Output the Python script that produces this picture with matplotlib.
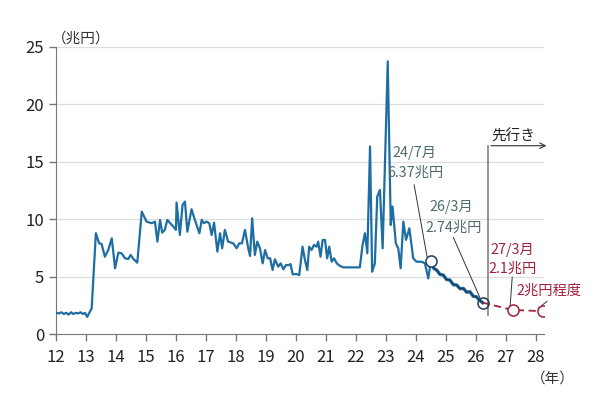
import matplotlib
matplotlib.use("Agg")
import matplotlib.pyplot as plt

plt.rcParams['font.family'] = ['Noto Sans CJK JP', 'DejaVu Sans']

# Observed series (year as decimal, value in trillion yen)
years = [12.02, 12.1, 12.18, 12.26, 12.34, 12.42, 12.5, 12.58, 12.66, 12.74, 12.82, 12.9, 12.97, 13.04, 13.19,
         13.33, 13.44, 13.52, 13.63, 13.74, 13.86, 13.97, 14.08, 14.19, 14.3, 14.41, 14.49, 14.58, 14.71,
         14.86, 15.02, 15.19, 15.3, 15.38, 15.47, 15.54, 15.63, 15.71, 15.91, 16.0, 16.02, 16.13, 16.22,
         16.3, 16.38, 16.52, 16.63, 16.78, 16.86, 16.93, 17.02, 17.11, 17.19, 17.27, 17.38, 17.47, 17.54,
         17.63, 17.74, 17.91, 18.02, 18.11, 18.2, 18.3, 18.41, 18.47, 18.54, 18.63, 18.71, 18.8, 18.89,
         18.97, 19.06, 19.14, 19.22, 19.3, 19.41, 19.49, 19.58, 19.67, 19.75, 19.82, 19.89, 20.02, 20.11,
         20.22, 20.3, 20.38, 20.44, 20.52, 20.6, 20.69, 20.74, 20.82, 20.89, 20.97, 21.04, 21.11, 21.19,
         21.27, 21.36, 21.47, 21.58, 22.13, 22.22, 22.3, 22.38, 22.47, 22.54, 22.63, 22.71, 22.8, 22.89,
         23.06, 23.16, 23.22, 23.33, 23.41, 23.49, 23.58, 23.67, 23.78, 23.91, 24.02, 24.19, 24.3, 24.41,
         24.5]
values = [1.85, 1.8, 1.9, 1.75, 1.85, 1.7, 1.9, 1.75, 1.85, 1.8, 1.9, 1.75, 1.85, 1.5, 2.24,
          8.78, 7.9, 7.85, 6.74, 7.3, 8.34, 5.73, 7.09, 7.03, 6.6, 6.54, 6.89, 6.54, 6.22,
          10.66, 9.79, 9.65, 9.79, 8.05, 9.94, 8.83, 9.07, 9.94, 9.36, 9.07, 11.45, 8.63, 11.25,
          11.53, 8.92, 10.87, 9.94, 8.78, 9.94, 9.65, 9.79, 9.65, 8.63, 9.7, 7.18, 8.78, 7.47,
          9.07, 8.05, 7.9, 7.47, 7.9, 7.9, 9.07, 7.47, 6.8, 10.08, 6.89, 8.05, 7.47, 6.16,
          7.32, 6.6, 6.6, 5.58, 6.51, 5.87, 6.16, 5.64, 6.02, 6.0, 6.1, 5.2, 5.23, 5.14,
          7.61, 6.45, 5.58, 7.61, 7.32, 7.76, 7.61, 8.05, 6.74, 8.2, 8.2, 6.6, 7.61, 6.3,
          6.6, 6.16, 5.93, 5.81, 5.81, 7.76, 8.78, 7.03, 16.33, 5.43, 6.16, 11.97, 12.55, 7.47,
          23.74, 9.5, 11.1, 7.9, 7.47, 5.73, 9.79, 8.2, 9.21, 6.6, 6.3, 6.3, 6.16, 4.86,
          6.37]

# Recent path after 24/7
recent_years = [24.5, 24.6, 24.69, 24.8, 24.91, 25.02, 25.13, 25.25, 25.36, 25.47, 25.58, 25.69, 25.8, 25.91, 26.02, 26.12, 26.22]
recent_values = [6.37, 5.7, 5.58, 5.2, 5.14, 4.75, 4.71, 4.3, 4.27, 3.95, 3.98, 3.65, 3.69, 3.3, 3.25, 2.95, 2.74]

# Projection
proj_years = [26.22, 27.22, 28.22]
proj_values = [2.74, 2.1, 2.0]

xticks = list(range(12, 29))
yticks = [0, 5, 10, 15, 20, 25]

blue = '#1f6ea3'
navy = '#1d3c5e'
red = '#a3203b'
teal = '#4d6b6b'

fig = plt.figure(figsize=(6, 3.94), dpi=100)
ax = fig.add_axes([0.0933, 0.152, 0.8134, 0.729])
ax.set_xlim(12, 28.27)
ax.set_ylim(0, 25)

for y in yticks[1:]:
    ax.axhline(y, color='#dddddd', lw=0.9, zorder=0)

ax.plot(years, values, color=blue, lw=1.6, zorder=3)
ax.plot(recent_years, recent_values, color=blue, lw=2.4, zorder=3)
ax.plot(recent_years, recent_values, color=navy, lw=1.0, zorder=4)
ax.plot(proj_years, proj_values, color=red, lw=1.3, ls=(0, (4, 2.5)), zorder=3)

# markers
ax.plot([years[-1]], [values[-1]], 'o', ms=8, mfc='white', mec=navy, mew=1.1, zorder=5)
ax.plot([proj_years[0]], [proj_values[0]], 'o', ms=8, mfc='none', mec=navy, mew=1.1, zorder=5)
ax.plot(proj_years[1:], proj_values[1:], 'o', ms=8, mfc='white', mec=red, mew=1.1, zorder=5)

# forecast marker line
ax.plot([26.41, 26.41], [1.65, 16.4], color='#777777', lw=1.1, zorder=2, clip_on=False)
ax.annotate('', xy=(28.45, 16.4), xytext=(26.41, 16.4),
            arrowprops=dict(arrowstyle='->', color='#444444', lw=0.9), annotation_clip=False)
ax.text(26.53, 17.2, '先行き', fontsize=10.5, color='#222222', ha='left', va='center')

# annotations
fs = 10.3
ax.text(23.95, 15.8, '24/7月', fontsize=fs, color=teal, ha='center', va='center')
ax.text(23.97, 14.05, '6.37兆円', fontsize=fs, color=teal, ha='center', va='center')
ax.plot([23.94, 24.37], [13.0, 6.75], color='#333333', lw=0.7)

ax.text(25.19, 11.1, '26/3月', fontsize=fs, color=teal, ha='center', va='center')
ax.text(25.24, 9.25, '2.74兆円', fontsize=fs, color=teal, ha='center', va='center')
ax.plot([25.25, 26.13], [8.4, 3.2], color='#333333', lw=0.7)

ax.text(27.21, 7.3, '27/3月', fontsize=fs, color=red, ha='center', va='center')
ax.text(27.21, 5.65, '2.1兆円', fontsize=fs, color=red, ha='center', va='center')
ax.plot([27.21, 27.14], [4.95, 2.45], color='#333333', lw=0.7)

ax.text(28.42, 3.75, '2兆円程度', fontsize=fs, color=red, ha='center', va='center', clip_on=False)
ax.plot([28.37, 28.08], [2.85, 2.25], color='#333333', lw=0.7, clip_on=False)

# axes styling
for s in ['top', 'right']:
    ax.spines[s].set_visible(False)
ax.spines['left'].set_color('#777777')
ax.spines['bottom'].set_color('#777777')
ax.set_xticks(xticks)
ax.set_yticks(yticks)
ax.tick_params(axis='both', colors='#777777', labelcolor='#222222', labelsize=12, length=5, width=1)
ax.tick_params(axis='x', pad=6)

fig.text(0.087, 0.903, '（兆円）', fontsize=10.5, color='#333333', ha='left', va='center')
fig.text(0.922, 0.04, '（年）', fontsize=10.5, color='#333333', ha='center', va='center')

fig.savefig('out.png', dpi=100)
